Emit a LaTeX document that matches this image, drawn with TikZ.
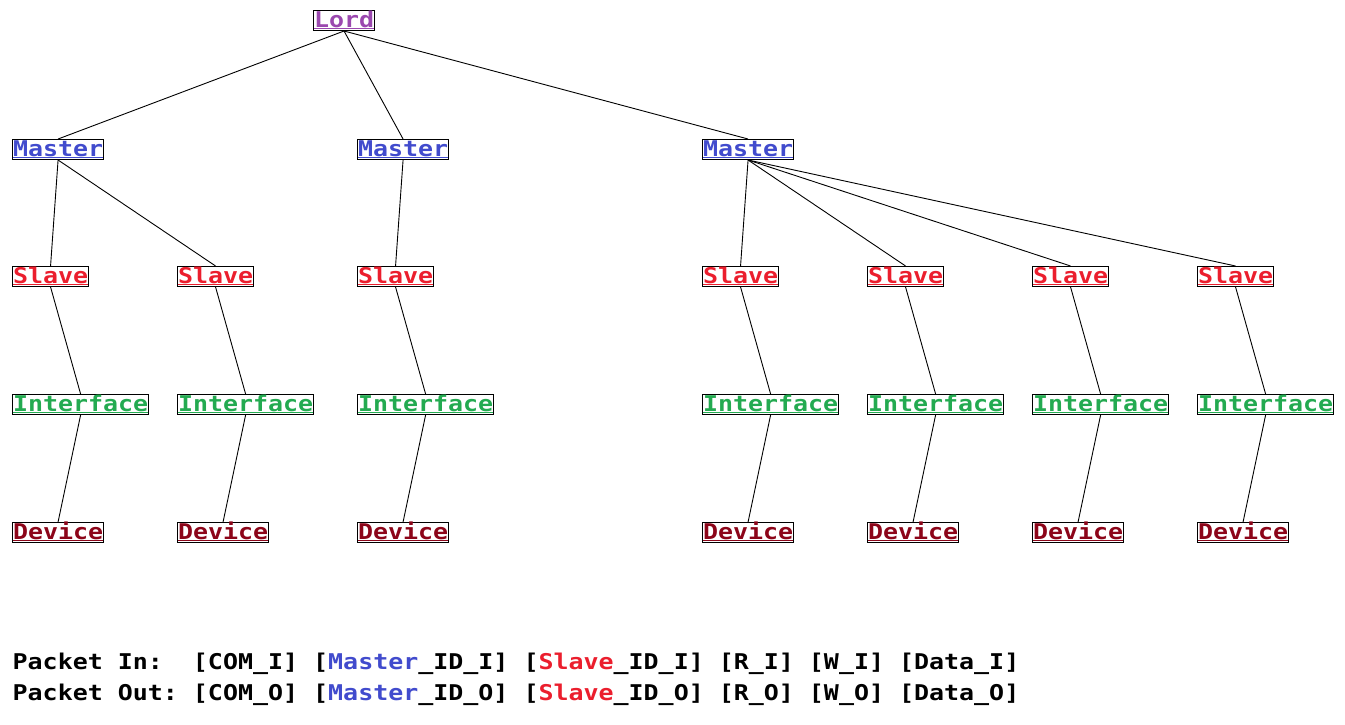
\documentclass[tikz,border=0pt]{standalone}
\usepackage{fontspec}
\newfontfamily\mono[FakeStretch=1.15]{DejaVu Sans Mono}
\definecolor{lordc}{RGB}{155,72,175}
\definecolor{masterc}{RGB}{65,75,205}
\definecolor{slavec}{RGB}{235,30,45}
\definecolor{ifacec}{RGB}{35,170,80}
\definecolor{devicec}{RGB}{140,5,25}
\newlength\ulwd
\newcommand\ulbox[1]{\settowidth\ulwd{#1}\rlap{\rule[-1.8pt]{\ulwd}{1.3pt}}#1}
\tikzset{
  tbox/.style={draw=black, line width=1pt, inner xsep=0.5pt, inner ysep=0pt,
    text height=16.5pt, text depth=3.5pt, anchor=north west,
    font=\mono\bfseries\fontsize{21.7}{26}\selectfont},
  lordbox/.style={tbox, text=lordc},
  masterbox/.style={tbox, text=masterc},
  slavebox/.style={tbox, text=slavec},
  ifacebox/.style={tbox, text=ifacec},
  devbox/.style={tbox, text=devicec},
  edge/.style={draw=black, line width=0.9pt},
  ptext/.style={anchor=base west, inner sep=0pt, text=black,
    font=\mono\bfseries\fontsize{21.7}{26}\selectfont}
}
\begin{document}
\begin{tikzpicture}[x=1pt,y=-1pt]
\useasboundingbox[fill=white] (0,0) rectangle (1345,724);
% Lord
\node[lordbox] (lord) at (313,10) {\ulbox{Lord}};
% Masters
\node[masterbox] (m1) at (12,139) {\ulbox{Master}};
\node[masterbox] (m2) at (357,139) {\ulbox{Master}};
\node[masterbox] (m3) at (702,139) {\ulbox{Master}};
% Slaves, interfaces, devices
\foreach \i/\x in {1/12,2/177,3/357,4/702,5/867,6/1032,7/1197}{
  \node[slavebox] (s\i) at (\x,266) {\ulbox{Slave}};
  \node[ifacebox] (f\i) at (\x,394) {\ulbox{Interface}};
  \node[devbox] (d\i) at (\x,522) {\ulbox{Device}};
  \draw[edge] (s\i.south) -- (f\i.north);
  \draw[edge] (f\i.south) -- (d\i.north);
}
\draw[edge] (lord.south) -- (m1.north);
\draw[edge] (lord.south) -- (m2.north);
\draw[edge] (lord.south) -- (m3.north);
\draw[edge] (m1.south) -- (s1.north);
\draw[edge] (m1.south) -- (s2.north);
\draw[edge] (m2.south) -- (s3.north);
\draw[edge] (m3.south) -- (s4.north);
\draw[edge] (m3.south) -- (s5.north);
\draw[edge] (m3.south) -- (s6.north);
\draw[edge] (m3.south) -- (s7.north);
% Packet legend
\node[ptext] (pin) at (12.5,669) {Packet~In:~~[COM\_I]~[\textcolor{masterc}{Master}\_ID\_I]~[\textcolor{slavec}{Slave}\_ID\_I]~[R\_I]~[W\_I]~[Data\_I]};
\node[ptext] (pout) at (12.5,700) {Packet~Out:~[COM\_O]~[\textcolor{masterc}{Master}\_ID\_O]~[\textcolor{slavec}{Slave}\_ID\_O]~[R\_O]~[W\_O]~[Data\_O]};
\end{tikzpicture}
\end{document}
